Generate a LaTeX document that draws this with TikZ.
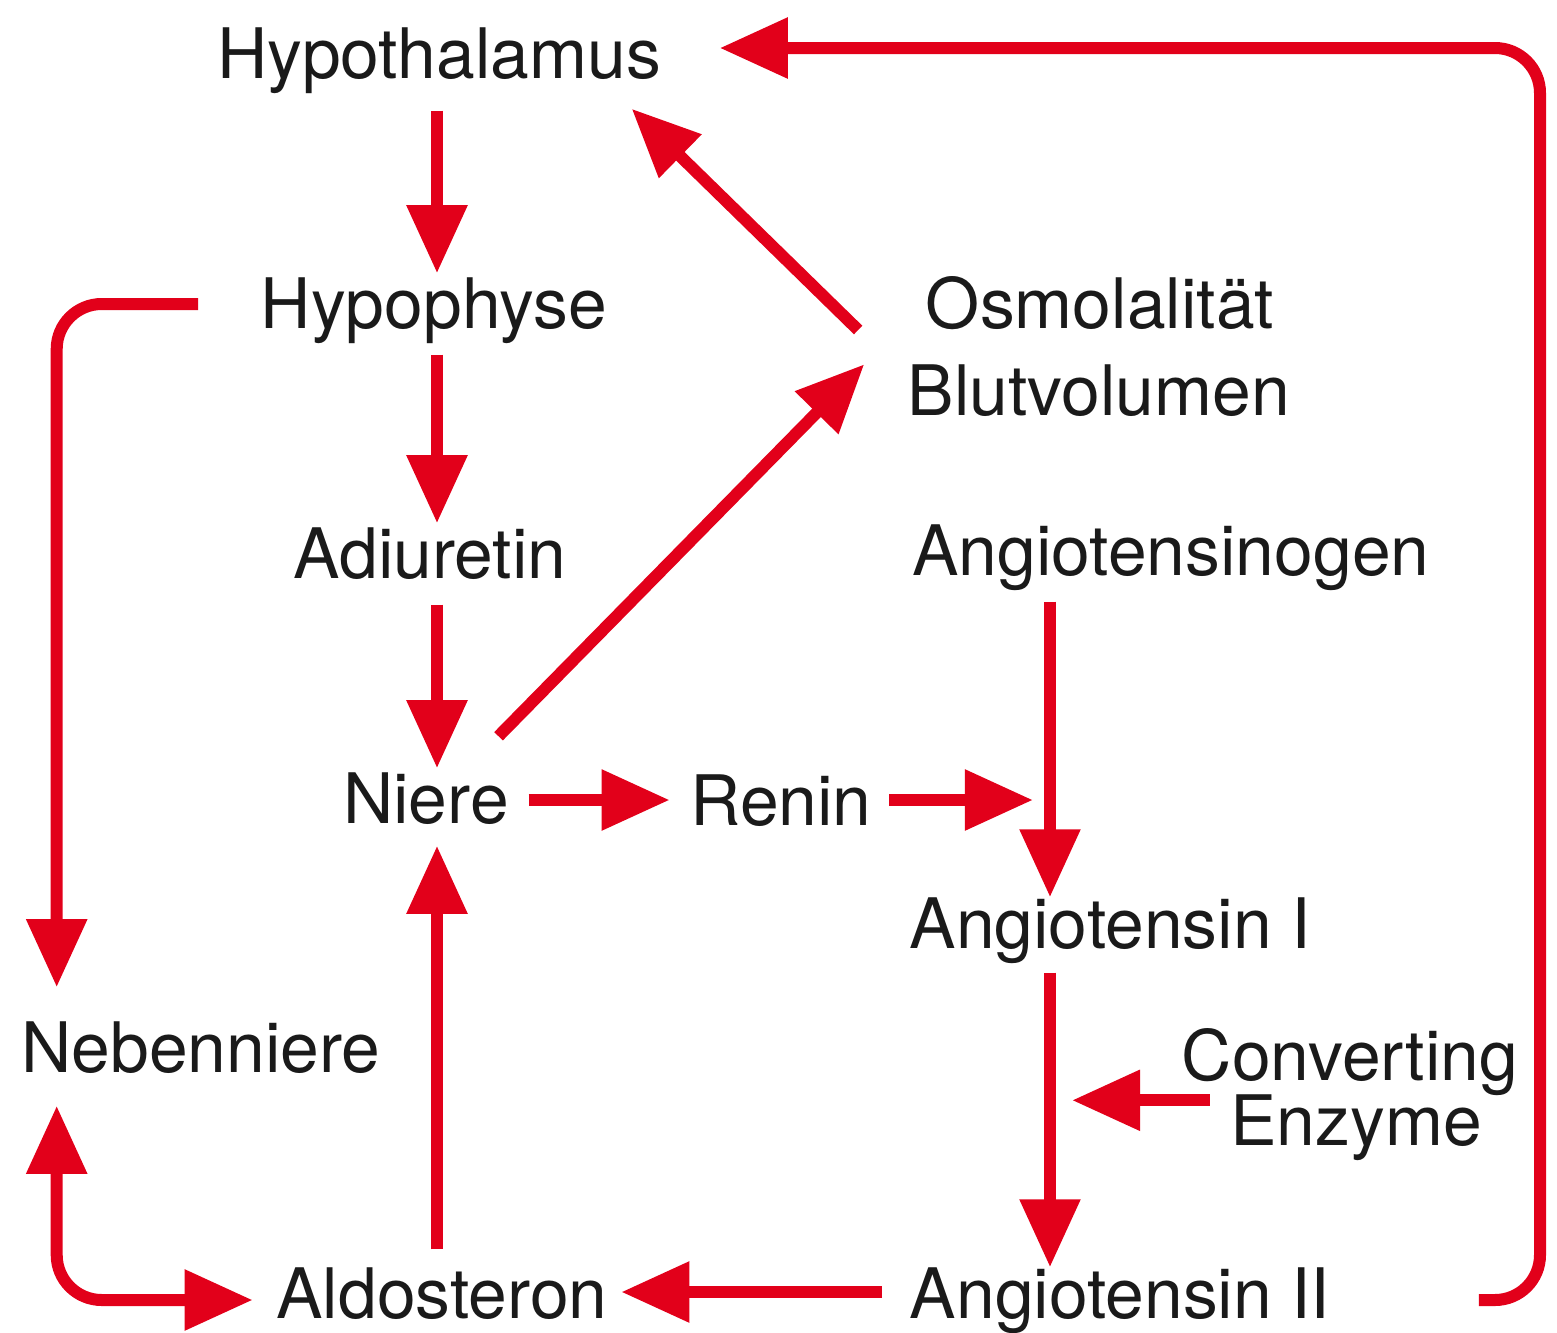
\documentclass[tikz,border=0pt]{standalone}
\usepackage{fontspec}
\setmainfont{TeX Gyre Heros}
\usetikzlibrary{arrows.meta}
\definecolor{arrred}{HTML}{E2001A}
\definecolor{txtgray}{HTML}{1A1A1A}

\tikzset{
  lbl/.style={font=\fontsize{19.8pt}{23pt}\selectfont, text=txtgray, inner sep=0pt,
    text height=0.5cm, text depth=0.14cm, anchor=base},
  arr/.style={draw=arrred, line width=0.12cm, -{Triangle[width=0.58cm,length=0.68cm]}},
  vert/.style={arr, shorten <=0.12cm, shorten >=0.04cm}
}

\begin{document}
\begin{tikzpicture}[x=0.01cm, y=-0.01cm]
        \useasboundingbox (0,0) rectangle (1557,1332);

        % labels
        \node[lbl] (hth) at (439,78) {Hypothalamus};
        \node[lbl] (hph) at (434,328) {Hypophyse};
        \node[lbl] (adi) at (430,578) {Adiuretin};
        \node[lbl] (nie) at (426,823) {Niere};
        \node[lbl] (ren) at (781,825) {Renin};
        \node[lbl] (osm) at (1100,328) {Osmolalität};
        \node[lbl] (blv) at (1099,415) {Blutvolumen};
        \node[lbl] (agg) at (1171,575) {Angiotensinogen};
        \node[lbl] (ag1) at (1110,948) {Angiotensin I};
        \node[lbl] (cvt) at (1350,1080) {Converting};
        \node[lbl] (enz) at (1356,1145) {Enzyme};
        \node[lbl] (neb) at (201,1072) {Nebenniere};
        \node[lbl] (ald) at (442,1318) {Aldosteron};
        \node[lbl] (ag2) at (1120,1318) {Angiotensin II};

        \coordinate (lcol) at (437,0);
        \coordinate (rcol) at (1050,0);
        \coordinate (loop) at (1540,48);

        % left column
        \draw[vert, shorten <=0.18cm] (hth.south -| lcol) -- (hph.north -| lcol);
        \draw[vert] (hph.south -| lcol) -- (adi.north -| lcol);
        \draw[vert] (adi.south -| lcol) -- (nie.north -| lcol);
        \draw[arr, shorten <=0.18cm, shorten >=0.08cm] (ald.north -| lcol) -- (nie.south -| lcol);

        % diagonals
        \draw[arr] ([xshift=-0.11cm,yshift=0.36cm]nie.north east) -- ([xshift=-0.43cm]blv.north west);
        \draw[arr] ([xshift=-0.67cm,yshift=-0.2cm]osm.west) -- ([xshift=-0.3cm,yshift=-0.16cm]hth.south east);

        % renin
        \draw[arr, shorten <=0.19cm, shorten >=0.2cm] ([yshift=0.05cm]nie.east) -- ([yshift=0.05cm]nie.east -| ren.west);
        \draw[arr, shorten <=0.17cm, shorten >=0.17cm] ([yshift=0.07cm]ren.east) -- ([yshift=0.07cm]ren.east -| rcol);

        % right column
        \draw[vert, shorten >=0cm] (agg.south -| rcol) -- (ag1.north -| rcol);
        \draw[vert, shorten <=0.1cm, shorten >=0cm] (ag1.south -| rcol) -- (ag2.north -| rcol);
        \draw[arr, shorten <=0.2cm, shorten >=0.22cm] ([yshift=-0.06cm]enz.north west) -- ([yshift=-0.06cm]enz.north west -| rcol);
        \draw[arr, shorten <=0.27cm, shorten >=0.13cm] ([yshift=0.08cm]ag2.west) -- ([yshift=0.08cm]ald.east);

        % loops
        \draw[arr, rounded corners=0.45cm, shorten <=0.62cm, shorten >=0.34cm]
          ([yshift=0.06cm]hph.west) -| ([xshift=0.36cm]neb.north west);
        \draw[arr, {Triangle[width=0.58cm,length=0.68cm]}-{Triangle[width=0.58cm,length=0.68cm]},
          rounded corners=0.45cm, shorten <=0.19cm, shorten >=0.23cm]
          ([xshift=0.36cm]neb.south west) |- (ald.west);
        \draw[arr, rounded corners=0.45cm, shorten <=1.48cm, shorten >=0.58cm]
          (ag2.east) -| (loop) -- (hth.east |- loop);

        \end{tikzpicture}
\end{document}
